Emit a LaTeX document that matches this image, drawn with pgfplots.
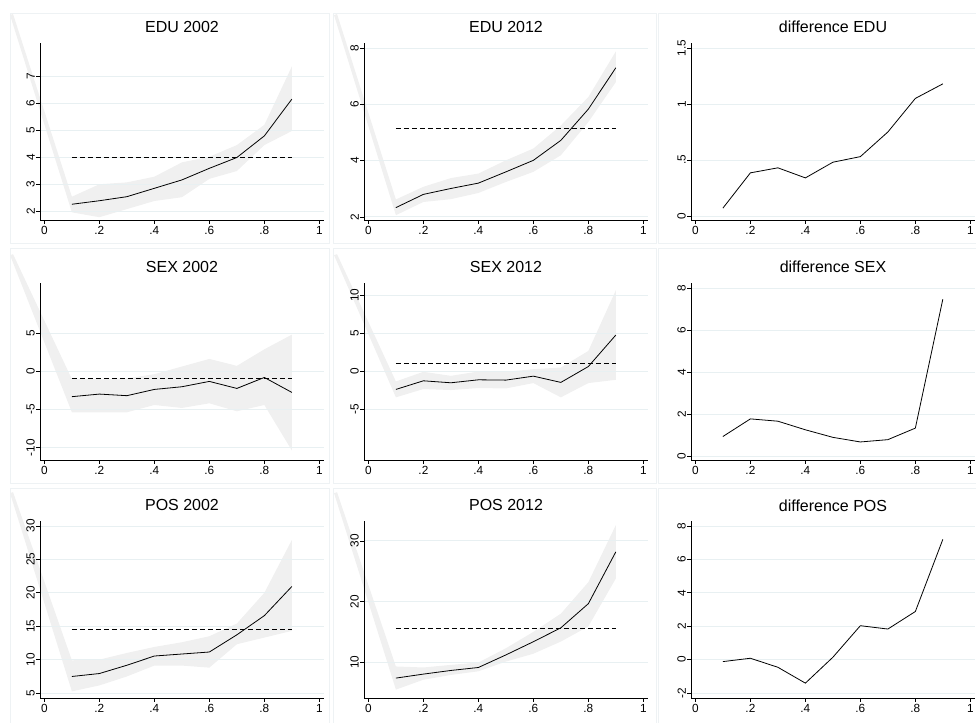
\documentclass[border=0pt]{standalone}
\usepackage{fontspec}
\setmainfont{Liberation Sans}
\usepackage{pgfplots}
\pgfplotsset{compat=1.18}
\definecolor{gridc}{RGB}{232,240,242}
\definecolor{bandc}{RGB}{240,240,240}
\definecolor{framec}{RGB}{238,242,244}
\pgfplotsset{
  geom/.style={
    scale only axis, width=284pt, height=177pt,
    xmin=-0.016, xmax=1.017,
    anchor=south west, clip=false,
  },
  bandaxis/.style={geom, hide axis},
  panel/.style={
    geom,
    axis x line*=bottom, axis y line*=left,
    axis line style={-, line width=0.7pt},
    xtick={0,0.2,0.4,0.6,0.8,1}, xticklabels={0,.2,.4,.6,.8,1},
    tick align=outside, major tick length=4pt,
    tick style={black, line width=0.7pt},
    ymajorgrids, grid style={gridc, line width=0.8pt},
    ticklabel style={font=\fontsize{11.8}{13}\selectfont},
    yticklabel style={rotate=90, anchor=south, inner sep=1pt},
    xticklabel style={inner sep=1pt, yshift=-1pt},
    title style={font=\fontsize{16}{18}\selectfont, anchor=base, at={(0.5,1)}, yshift=4pt},
    /pgf/number format/assume math mode=true,
  },
  est/.style={black, line width=0.8pt},
  mean/.style={black, line width=0.8pt, dash pattern=on 5pt off 3pt},
  band/.style={fill=bandc, draw=none},
}
\begin{document}
\begin{tikzpicture}
\path[use as bounding box] (0pt,0pt) rectangle (976pt,722pt);
% faint panel frames
\foreach \xa/\xb in {10/329,333/656,658/990}{
  \foreach \ya/\yb in {13/243,248/483,488/730}{
    \draw[framec, line width=0.6pt] (\xa pt,722pt-\ya pt) rectangle (\xb pt,722pt-\yb pt);
  }
}
% ---------------- Row 1 ----------------
\begin{axis}[bandaxis, at={(40pt,502pt)}, ymin=1.667, ymax=8.22]
\addplot[band] coordinates {(-0.114,9.294) (0.1,2.53) (0.2,2.99) (0.3,3.06) (0.4,3.27) (0.5,3.80) (0.6,4.01) (0.7,4.44) (0.8,5.19) (0.9,7.35)
 (0.9,4.96) (0.8,4.44) (0.7,3.48) (0.6,3.19) (0.5,2.51) (0.4,2.37) (0.3,2.07) (0.2,1.77) (0.1,1.95) (-0.125,9.257)} -- cycle;
\end{axis}
\begin{axis}[panel, at={(40pt,502pt)}, title={EDU 2002},
  ymin=1.667, ymax=8.22, ytick={2,3,4,5,6,7}, yticklabels={2,3,4,5,6,7}]
\addplot[est] coordinates {(0.1,2.25) (0.2,2.38) (0.3,2.53) (0.4,2.84) (0.5,3.15) (0.6,3.58) (0.7,3.98) (0.8,4.78) (0.9,6.14)};
\addplot[mean] coordinates {(0.1,3.98) (0.9,3.98)};
\end{axis}

\begin{axis}[bandaxis, at={(364pt,502pt)}, ymin=1.89, ymax=8.18]
\addplot[band] coordinates {(-0.114,9.21) (0.1,2.62) (0.2,3.07) (0.3,3.38) (0.4,3.54) (0.5,4.01) (0.6,4.43) (0.7,5.25) (0.8,6.26) (0.9,7.88)
 (0.9,6.79) (0.8,5.37) (0.7,4.19) (0.6,3.60) (0.5,3.24) (0.4,2.85) (0.3,2.63) (0.2,2.53) (0.1,2.06) (-0.125,9.17)} -- cycle;
\end{axis}
\begin{axis}[panel, at={(364pt,502pt)}, title={EDU 2012},
  ymin=1.89, ymax=8.18, ytick={2,4,6,8}, yticklabels={2,4,6,8}]
\addplot[est] coordinates {(0.1,2.33) (0.2,2.80) (0.3,3.01) (0.4,3.20) (0.5,3.60) (0.6,4.01) (0.7,4.72) (0.8,5.83) (0.9,7.30)};
\addplot[mean] coordinates {(0.1,5.15) (0.9,5.15)};
\end{axis}

\begin{axis}[panel, at={(691pt,502pt)}, title={difference EDU},
  ymin=-0.036, ymax=1.545, ytick={0,0.5,1,1.5}, yticklabels={0,.5,1,1.5}]
\addplot[est] coordinates {(0.1,0.07) (0.2,0.385) (0.3,0.43) (0.4,0.34) (0.5,0.48) (0.6,0.53) (0.7,0.75) (0.8,1.05) (0.9,1.18)};
\end{axis}

% ---------------- Row 2 ----------------
\begin{axis}[bandaxis, at={(40pt,262pt)}, ymin=-11.6, ymax=11.6]
\addplot[band] coordinates {(-0.114,15.38) (0.1,-1.0) (0.2,-1.0) (0.3,-0.91) (0.4,-0.35) (0.5,0.65) (0.6,1.65) (0.7,0.74) (0.8,2.91) (0.9,4.83)
 (0.9,-10.35) (0.8,-4.39) (0.7,-5.22) (0.6,-4.17) (0.5,-4.78) (0.4,-4.39) (0.3,-5.35) (0.2,-5.35) (0.1,-5.35) (-0.125,15.25)} -- cycle;
\end{axis}
\begin{axis}[panel, at={(40pt,262pt)}, title={SEX 2002},
  ymin=-11.6, ymax=11.6, ytick={-10,-5,0,5}, yticklabels={-10,-5,0,5}]
\addplot[est] coordinates {(0.1,-3.30) (0.2,-2.96) (0.3,-3.17) (0.4,-2.35) (0.5,-2.0) (0.6,-1.30) (0.7,-2.22) (0.8,-0.78) (0.9,-2.74)};
\addplot[mean] coordinates {(0.1,-0.91) (0.9,-0.91)};
\end{axis}

\begin{axis}[bandaxis, at={(364pt,262pt)}, ymin=-11.6, ymax=11.6]
\addplot[band] coordinates {(-0.114,15.38) (0.1,-1.30) (0.2,-0.04) (0.3,-0.57) (0.4,0) (0.5,-0.04) (0.6,0.30) (0.7,0.52) (0.8,2.70) (0.9,10.65)
 (0.9,-1.09) (0.8,-1.52) (0.7,-3.39) (0.6,-1.52) (0.5,-2.22) (0.4,-2.17) (0.3,-2.43) (0.2,-2.30) (0.1,-3.39) (-0.125,15.25)} -- cycle;
\end{axis}
\begin{axis}[panel, at={(364pt,262pt)}, title={SEX 2012},
  ymin=-11.6, ymax=11.6, ytick={-5,0,5,10}, yticklabels={-5,0,5,10}]
\addplot[est] coordinates {(0.1,-2.35) (0.2,-1.22) (0.3,-1.48) (0.4,-1.09) (0.5,-1.13) (0.6,-0.61) (0.7,-1.43) (0.8,0.65) (0.9,4.78)};
\addplot[mean] coordinates {(0.1,1.04) (0.9,1.04)};
\end{axis}

\begin{axis}[panel, at={(691pt,262pt)}, title={difference SEX},
  ymin=-0.19, ymax=8.25, ytick={0,2,4,6,8}, yticklabels={0,2,4,6,8}]
\addplot[est] coordinates {(0.1,0.93) (0.2,1.77) (0.3,1.66) (0.4,1.25) (0.5,0.89) (0.6,0.67) (0.7,0.78) (0.8,1.33) (0.9,7.48)};
\end{axis}

% ---------------- Row 3 ----------------
\begin{axis}[bandaxis, at={(40pt,24pt)}, ymin=4.26, ymax=30.74]
\addplot[band] coordinates {(-0.114,35.06) (0.1,9.9) (0.2,10.0) (0.3,11.0) (0.4,11.9) (0.5,12.6) (0.6,13.5) (0.7,15.4) (0.8,20.0) (0.9,27.9)
 (0.9,14.3) (0.8,13.3) (0.7,12.3) (0.6,8.8) (0.5,9.11) (0.4,9.11) (0.3,7.48) (0.2,6.14) (0.1,5.25) (-0.125,34.91)} -- cycle;
\end{axis}
\begin{axis}[panel, at={(40pt,24pt)}, title={POS 2002},
  ymin=4.26, ymax=30.74, ytick={5,10,15,20,25,30}, yticklabels={5,10,15,20,25,30}]
\addplot[est] coordinates {(0.1,7.48) (0.2,7.92) (0.3,9.16) (0.4,10.54) (0.5,10.84) (0.6,11.14) (0.7,13.71) (0.8,16.58) (0.9,20.94)};
\addplot[mean] coordinates {(0.1,14.55) (0.9,14.55)};
\end{axis}

\begin{axis}[bandaxis, at={(364pt,24pt)}, ymin=4.1, ymax=33.28]
\addplot[band] coordinates {(-0.114,38.03) (0.1,9.3) (0.2,9.13) (0.3,9.56) (0.4,9.95) (0.5,12.3) (0.6,15.0) (0.7,18.0) (0.8,23.2) (0.9,32.6)
 (0.9,23.8) (0.8,15.9) (0.7,13.4) (0.6,11.4) (0.5,10.1) (0.4,8.5) (0.3,7.9) (0.2,7.11) (0.1,5.48) (-0.125,37.87)} -- cycle;
\end{axis}
\begin{axis}[panel, at={(364pt,24pt)}, title={POS 2012},
  ymin=4.1, ymax=33.28, ytick={10,20,30}, yticklabels={10,20,30}]
\addplot[est] coordinates {(0.1,7.38) (0.2,8.04) (0.3,8.64) (0.4,9.13) (0.5,11.2) (0.6,13.38) (0.7,15.67) (0.8,19.65) (0.9,28.2)};
\addplot[mean] coordinates {(0.1,15.5) (0.9,15.5)};
\end{axis}

\begin{axis}[panel, at={(691pt,24pt)}, title={difference POS},
  ymin=-2.3, ymax=8.3, ytick={-2,0,2,4,6,8}, yticklabels={-2,0,2,4,6,8}]
\addplot[est] coordinates {(0.1,-0.12) (0.2,0.08) (0.3,-0.46) (0.4,-1.41) (0.5,0.14) (0.6,2.03) (0.7,1.83) (0.8,2.88) (0.9,7.2)};
\end{axis}
\end{tikzpicture}
\end{document}
